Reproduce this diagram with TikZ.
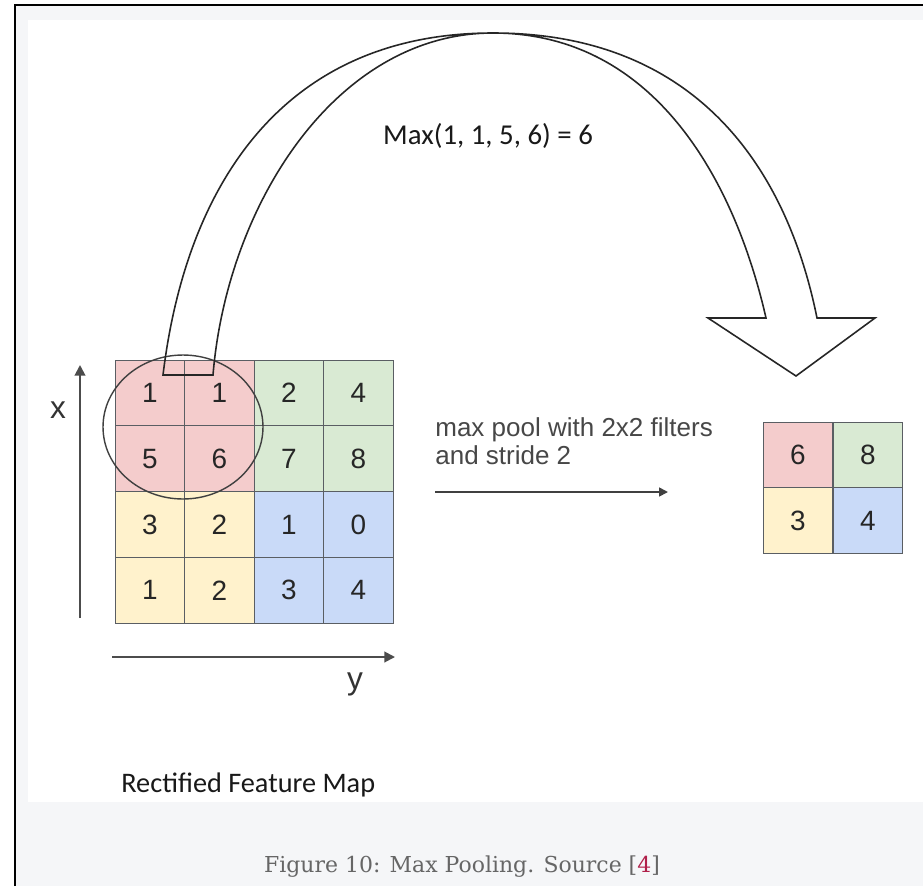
\documentclass[tikz,border=0pt]{standalone}
\usepackage{fontspec}
\usetikzlibrary{arrows.meta,shapes.geometric}
\newfontfamily\cellfont{Liberation Sans}
\newfontfamily\notefont{Carlito}
\newfontfamily\capfont{DejaVu Serif}
\definecolor{quad0}{HTML}{F4CCCC}
\definecolor{quad1}{HTML}{D9EAD3}
\definecolor{quad2}{HTML}{FFF2CC}
\definecolor{quad3}{HTML}{C9DAF8}
\definecolor{gridline}{HTML}{5A5E63}
\definecolor{panelgray}{HTML}{F5F6F8}
\definecolor{captext}{HTML}{666666}
\definecolor{citered}{HTML}{B0204A}

\begin{document}
\begin{tikzpicture}
	[x=0.02cm,y=-0.02cm,
	cell/.style={shape=rectangle,draw=gridline,line width=0.6pt,minimum width=1.39cm,
		minimum height=1.315cm,inner sep=0pt,text=black!85,
		font=\cellfont\fontsize{15.9pt}{18pt}\selectfont},
	window/.style={shape=ellipse,draw=black!75,line width=0.8pt,inner sep=0pt,
		minimum width=3.2cm,minimum height=2.88cm},
	axis/.style={draw=black!70,line width=1.1pt,-{Triangle[length=6pt,width=6pt]}},
	poolarrow/.style={draw=black!75,line width=0.9pt,-{Triangle[length=5pt,width=5pt]}},
	bendarrow/.style={draw=black!85,line width=0.9pt,line join=miter},
	axislabel/.style={anchor=base,inner sep=0pt,text=black!80,
		font=\cellfont\fontsize{18pt}{20pt}\selectfont}]

	% page, panels and frame
	\useasboundingbox (0,0) rectangle (923,886);
	\fill[white] (0,0) rectangle (923,886);
	\fill[panelgray] (15,5) rectangle (923,886);
	\fill[white] (28,20) rectangle (923,802);
	\draw[line width=1.2pt] (15,886) -- (15,5) -- (923,5);

	% 4x4 feature map
	\foreach \v [count=\k from 0] in {1,1,2,4,5,6,7,8,3,2,1,0,1,2,3,4}
	{
		\pgfmathtruncatemacro\rowi{\k/4}
		\pgfmathtruncatemacro\coli{mod(\k,4)}
		\pgfmathtruncatemacro\qd{2*(\rowi>1)+(\coli>1)}
		\node[cell,fill=quad\qd] (m\rowi\coli) at (150+69.5*\coli,393+65.75*\rowi) {\v};
	}

	% pooled 2x2 map
	\foreach \v [count=\k from 0] in {6,8,3,4}
	{
		\pgfmathtruncatemacro\rowi{\k/2}
		\pgfmathtruncatemacro\coli{mod(\k,2)}
		\node[cell,fill=quad\k] (p\rowi\coli) at (798+70*\coli,455+65.5*\rowi) {\v};
	}

	\node[window] (win) at (183,427) {};

	% big bent arrow from the window to the pooled map
	\coordinate (baseL) at (163,375);
	\coordinate (baseR) at (213,375);
	\coordinate (apex) at (493,33);
	\coordinate (shaftO) at (817,318);
	\coordinate (shaftI) at (766,318);
	\coordinate (wingO) at (875,318);
	\coordinate (wingI) at (708,318);
	\coordinate (tip) at (796,376);
	\draw[bendarrow] (baseL) .. controls (186,185) and (283,33) .. (apex)
		.. controls (690,33) and (785,160) .. (shaftO) -- (wingO) -- (tip)
		-- (wingI) -- (shaftI) .. controls (734,178) and (653,33) .. (apex)
		.. controls (336,33) and (227,205) .. (baseR) -- cycle;

	\node[anchor=base,inner sep=0pt,text=black!90,font=\notefont\fontsize{16.4pt}{19pt}\selectfont]
		(maxText) at (488,144) {Max(1, 1, 5, 6) = 6};

	% axes
	\coordinate (xFrom) at (80,618);
	\coordinate (xTo) at (80,365);
	\coordinate (yFrom) at (112,657);
	\coordinate (yTo) at (395,657);
	\draw[axis] (xFrom) -- (xTo);
	\draw[axis] (yFrom) -- (yTo);
	\node[axislabel] (xLabel) at (58,418) {x};
	\node[axislabel] (yLabel) at (355,689) {y};

	% pooling step
	\node[anchor=north west,inner sep=0pt,align=left,text=black!72,
		font=\cellfont\fontsize{14.8pt}{15.9pt}\selectfont]
		(poolText) at (435,417) {max pool with 2x2 filters\\and stride 2};
	\coordinate (poolFrom) at (435,492);
	\coordinate (poolTo) at (668,492);
	\draw[poolarrow] (poolFrom) -- (poolTo);

	\node[anchor=base west,inner sep=0pt,text=black!90,font=\notefont\fontsize{16.1pt}{19pt}\selectfont]
		(mapName) at (121,792) {Rectified Feature Map};
	\node[anchor=base,inner sep=0pt,text=captext,font=\capfont\fontsize{12.5pt}{14pt}\selectfont]
		(caption) at (462,872) {Figure 10: Max Pooling. Source [{\color{citered}4}]};
\end{tikzpicture}
\end{document}
